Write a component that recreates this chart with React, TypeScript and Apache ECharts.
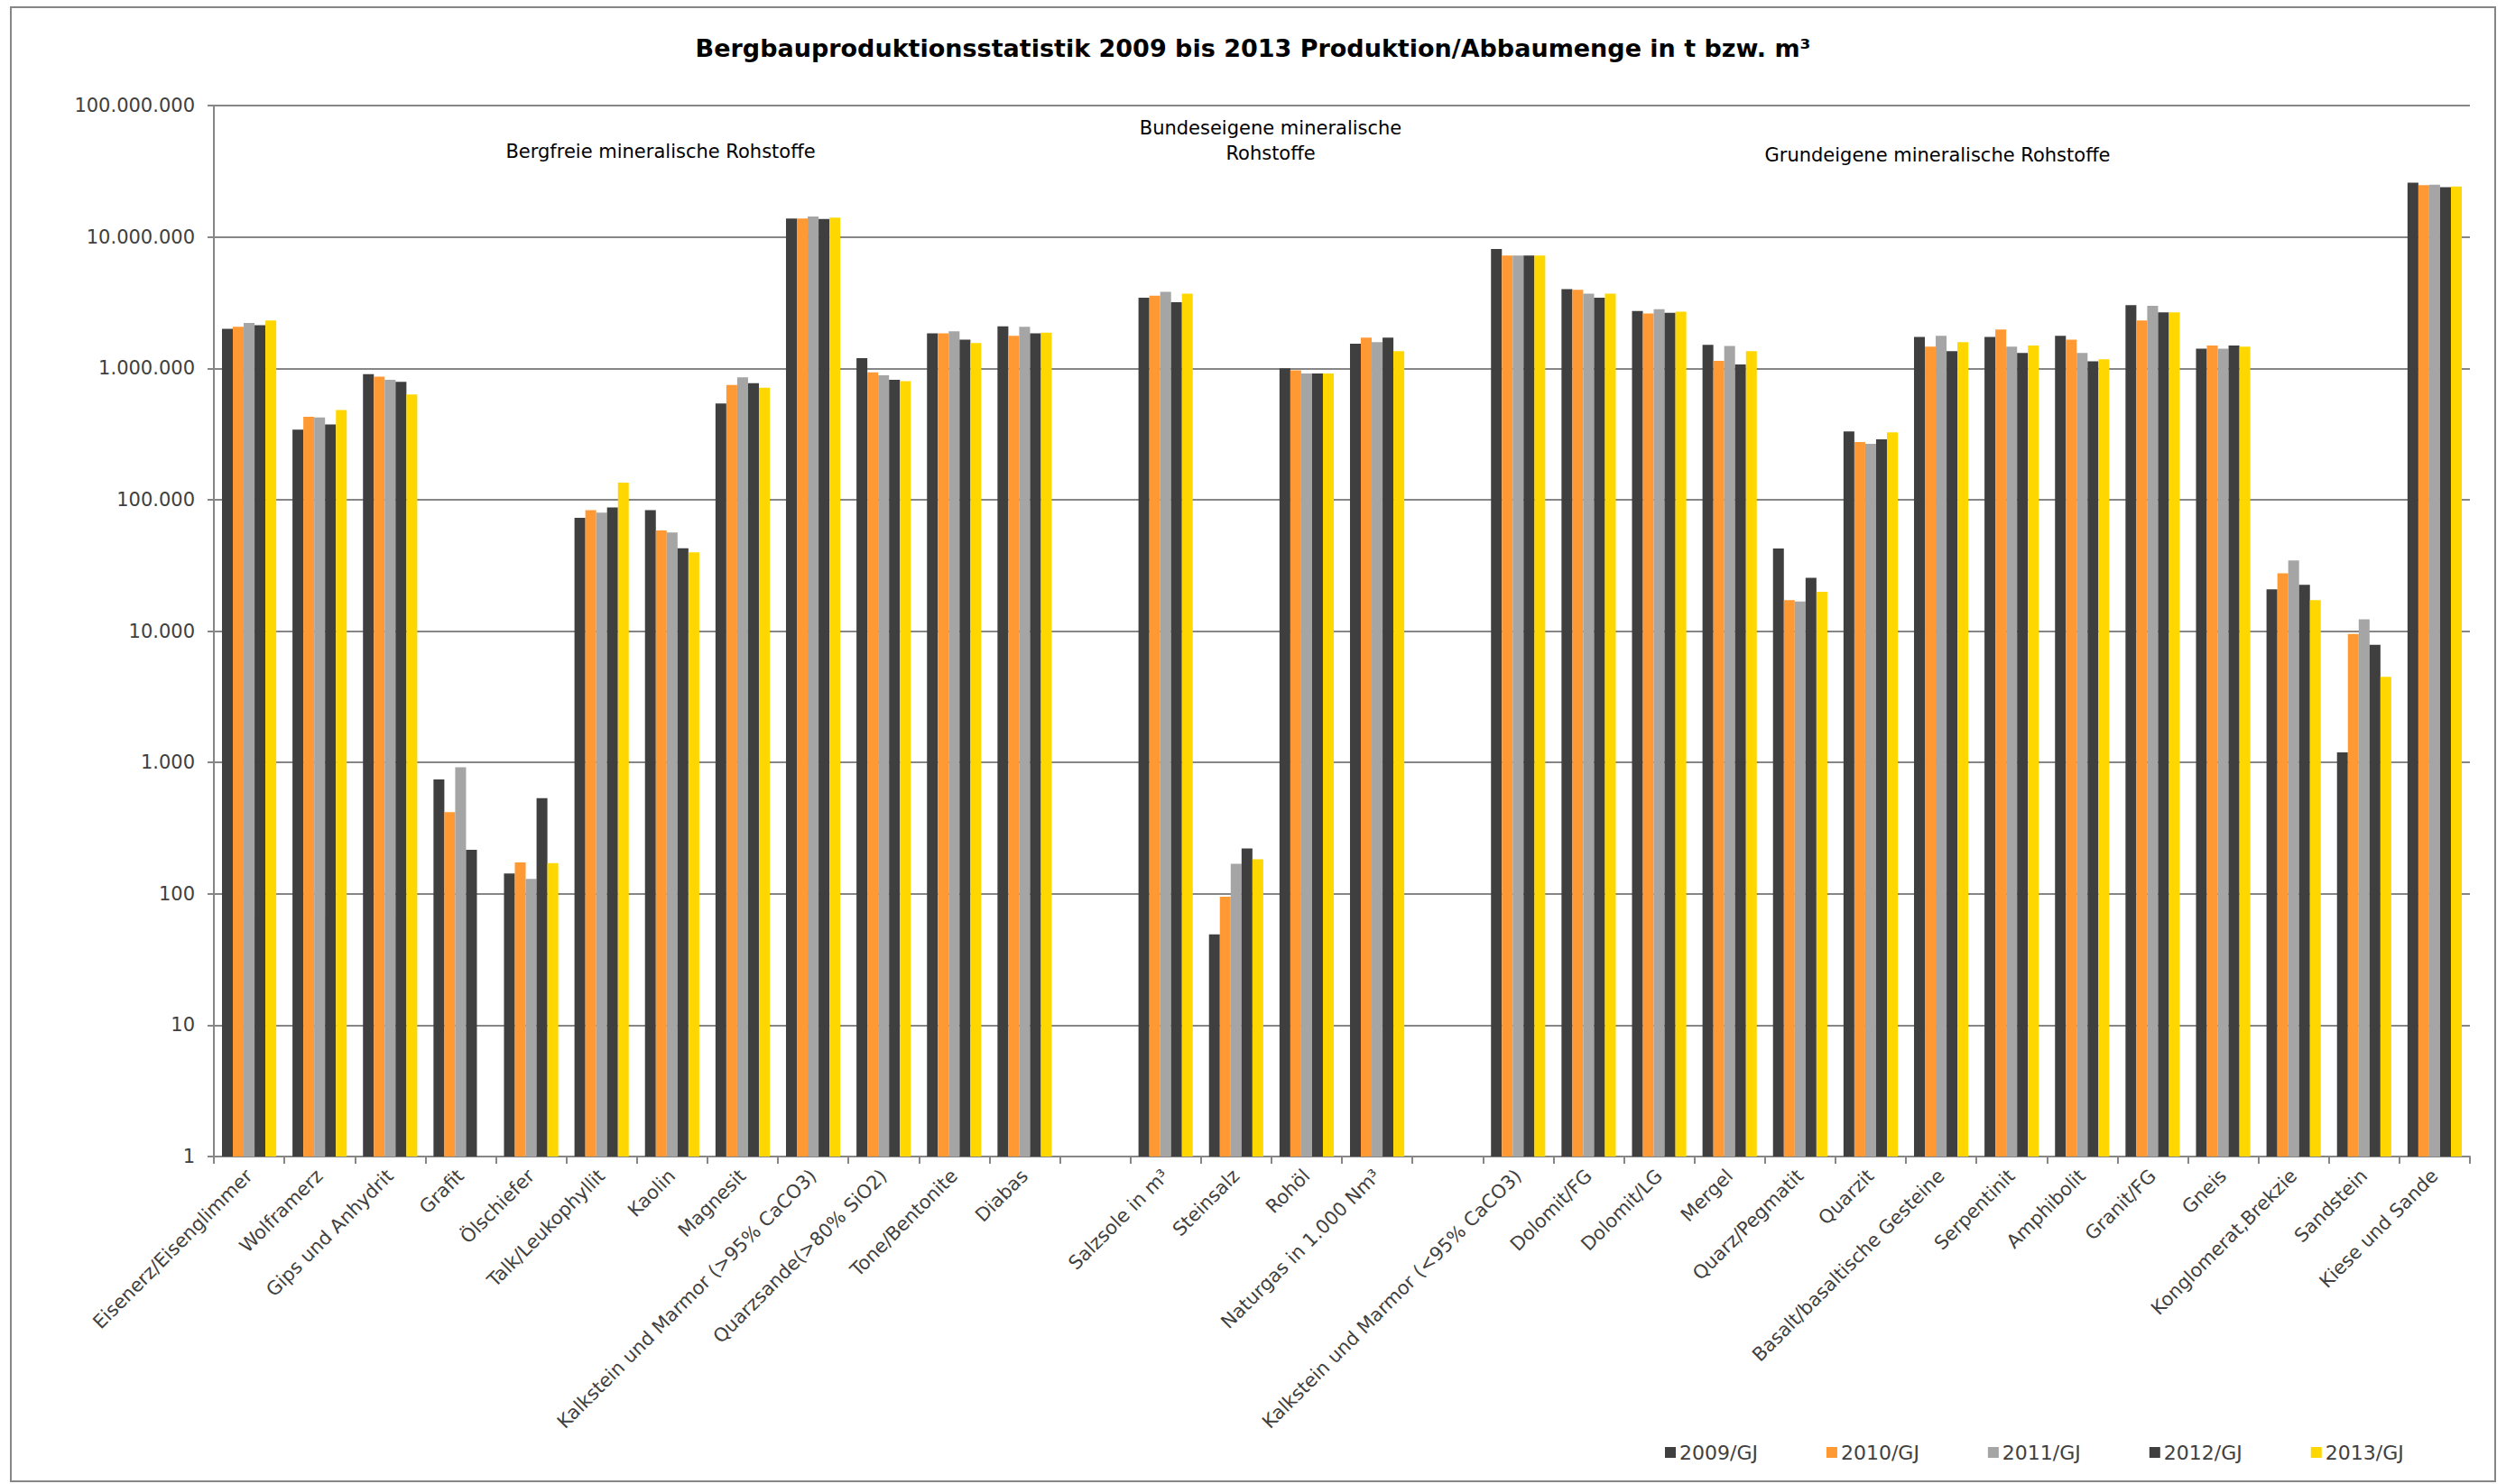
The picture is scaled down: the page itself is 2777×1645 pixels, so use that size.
import React, { useEffect, useRef } from "react";
import * as echarts from "echarts";

const categories = [
  "Eisenerz/Eisenglimmer", "Wolframerz", "Gips und Anhydrit", "Grafit", "Ölschiefer",
  "Talk/Leukophyllit", "Kaolin", "Magnesit", "Kalkstein und Marmor (>95% CaCO3)",
  "Quarzsande(>80% SiO2)", "Tone/Bentonite", "Diabas", "",
  "Salzsole in m³", "Steinsalz", "Rohöl", "Naturgas in 1.000 Nm³", "",
  "Kalkstein und Marmor (<95% CaCO3)", "Dolomit/FG", "Dolomit/LG", "Mergel", "Quarz/Pegmatit",
  "Quarzit", "Basalt/basaltische Gesteine", "Serpentinit", "Amphibolit", "Granit/FG", "Gneis",
  "Konglomerat,Brekzie", "Sandstein", "Kiese und Sande",
];

const seriesNames = ["2009/GJ", "2010/GJ", "2011/GJ", "2012/GJ", "2013/GJ"];
const seriesColors = ["#3f3f3f", "#ff9933", "#a5a5a5", "#3f3f3f", "#ffd700"];

const v2009 = [1995000, 341000, 903000, 741, 143, 72800, 83200, 539000, 13800000, 1194000, 1845000, 2090000, null,
  3450000, 49, 1000000, 1540000, null,
  8090000, 4000000, 2730000, 1510000, 42500, 330000, 1730000, 1730000, 1770000, 3020000, 1410000, 20800, 1190, 25900000];
const v2010 = [2070000, 427000, 863000, 419, 173, 83200, 58200, 747000, 13800000, 933000, 1845000, 1770000, null,
  3570000, 95, 966000, 1710000, null,
  7230000, 3950000, 2610000, 1140000, 17200, 275000, 1460000, 1970000, 1650000, 2310000, 1490000, 27500, 9500, 24800000];
const v2011 = [2210000, 422000, 816000, 917, 130, 79600, 56300, 854000, 14300000, 883000, 1910000, 2070000, null,
  3820000, 169, 912000, 1580000, null,
  7230000, 3700000, 2820000, 1480000, 16800, 266000, 1770000, 1460000, 1310000, 2990000, 1410000, 34400, 12300, 25000000];
const v2012 = [2130000, 373000, 789000, 216, 535, 87100, 42600, 771000, 13700000, 816000, 1650000, 1845000, null,
  3190000, 221, 912000, 1710000, null,
  7230000, 3450000, 2640000, 1070000, 25400, 288000, 1350000, 1310000, 1130000, 2670000, 1490000, 22500, 7850, 23900000];
const v2013 = [2310000, 482000, 631000, null, 171, 134600, 39800, 713000, 14000000, 798000, 1560000, 1870000, null,
  3700000, 183, 912000, 1350000, null,
  7230000, 3700000, 2700000, 1350000, 19900, 326000, 1580000, 1490000, 1170000, 2670000, 1460000, 17200, 4490, 24200000];
const seriesValues = [v2009, v2010, v2011, v2012, v2013];

const groupLabels = [
  { text: "Bergfreie mineralische Rohstoffe", x: 732, y: 168 },
  { text: "Bundeseigene mineralische\nRohstoffe", x: 1408, y: 156 },
  { text: "Grundeigene mineralische Rohstoffe", x: 2147, y: 172 },
];

const FONT = "'DejaVu Sans', Verdana, sans-serif";

function fmt(v: number): string {
  const s = Math.round(v).toString();
  return s.replace(/\B(?=(\d{3})+(?!\d))/g, ".");
}

export default function App() {
  const ref = useRef<HTMLDivElement>(null);
  useEffect(() => {
    if (!ref.current) return;
    const chart = echarts.init(ref.current, null, { renderer: "svg" });
    chart.setOption({
      animation: false,
      backgroundColor: "#ffffff",
      title: {
        text: "Bergbauproduktionsstatistik 2009 bis 2013 Produktion/Abbaumenge in t bzw. m³",
        left: "center",
        top: 35,
        textStyle: { fontFamily: FONT, fontSize: 27, fontWeight: "bold", color: "#000" },
      },
      legend: {
        data: seriesNames,
        left: 1840,
        top: 1594,
        itemWidth: 12,
        itemHeight: 12,
        itemGap: 76,
        icon: "rect",
        textStyle: { fontFamily: FONT, fontSize: 22, color: "#404040", padding: [0, 0, 0, -1] },
      },
      grid: { left: 237, right: 40, top: 117, bottom: 363, containLabel: false },
      xAxis: {
        type: "category",
        data: categories,
        axisLine: { lineStyle: { color: "#868686", width: 2 } },
        axisTick: { show: true, interval: 0, length: 8, lineStyle: { color: "#868686", width: 2 } },
        axisLabel: {
          interval: 0,
          rotate: 45,
          margin: 18,
          fontFamily: FONT,
          fontSize: 21,
          color: "#404040",
        },
      },
      yAxis: {
        type: "log",
        logBase: 10,
        min: 1,
        max: 100000000,
        axisLine: { show: true, lineStyle: { color: "#868686", width: 2 } },
        axisTick: { show: true, length: 7, lineStyle: { color: "#868686", width: 2 } },
        splitLine: { show: true, lineStyle: { color: "#868686", width: 2 } },
        axisLabel: {
          margin: 21,
          fontFamily: FONT,
          fontSize: 21,
          color: "#404040",
          formatter: (v: number) => fmt(v),
        },
      },
      series: seriesNames.map((name, i) => ({
        name,
        type: "bar",
        data: seriesValues[i],
        barGap: "0%",
        barCategoryGap: "23%",
        itemStyle: { color: seriesColors[i] },
      })),
      graphic: [
        {
          type: "rect",
          shape: { x: 12, y: 8, width: 2753, height: 1634 },
          style: { fill: "none", stroke: "#868686", lineWidth: 2 },
          silent: true,
        },
        ...groupLabels.map((g) => ({
          type: "text",
          x: g.x,
          y: g.y,
          style: {
            text: g.text,
            fontFamily: FONT,
            fontSize: 21,
            fill: "#000",
            align: "center",
            verticalAlign: "middle",
            lineHeight: 28,
          },
        })),
      ],
    });
    return () => chart.dispose();
  }, []);
  return (
    <div
      ref={ref}
      style={{ position: "fixed", left: 0, top: 0, width: 2777, height: 1645 }}
    />
  );
}
